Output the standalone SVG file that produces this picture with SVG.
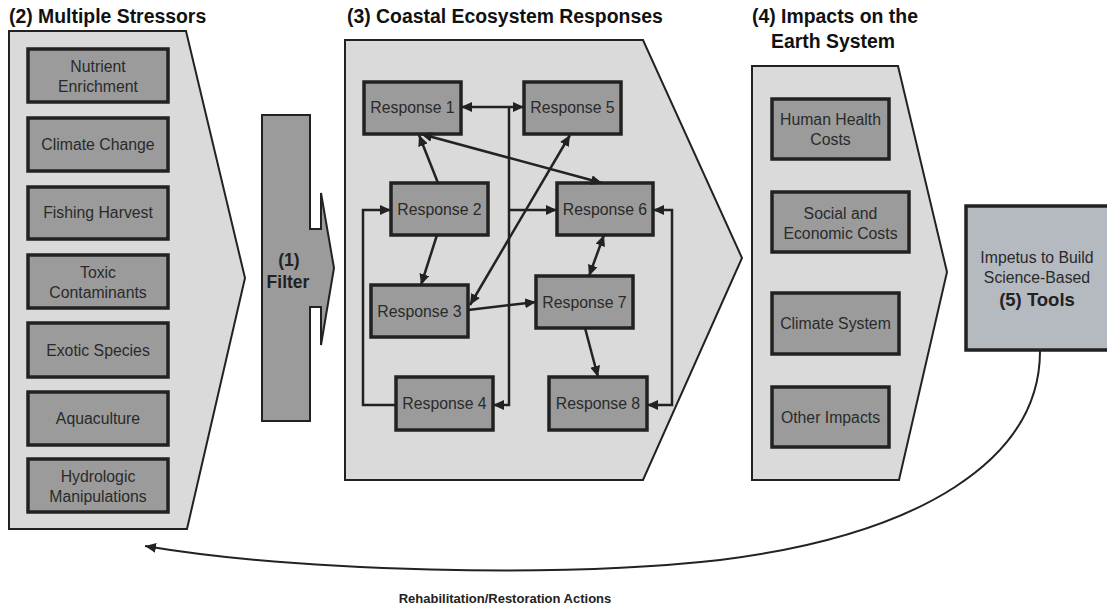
<svg xmlns="http://www.w3.org/2000/svg" width="1107" height="607" viewBox="0 0 1107 607">
<defs>
<style>
.panel{fill:#dadada;stroke:#222;stroke-width:2}
.box{fill:#9b9b9b;stroke:#222;stroke-width:3.5}
.tools{fill:#b5b9c0;stroke:#222;stroke-width:3.5}
.filter{fill:#9b9b9b;stroke:#222;stroke-width:2}
.t{font-family:"Liberation Sans",Arial,sans-serif;font-size:15.8px;fill:#2a2a2a;text-anchor:middle}
.title{font-family:"Liberation Sans",Arial,sans-serif;font-size:19.4px;font-weight:bold;fill:#111}
.b{font-family:"Liberation Sans",Arial,sans-serif;font-weight:bold;fill:#222;text-anchor:middle}
.c{fill:none;stroke:#222;stroke-width:2.5}
.cu{fill:none;stroke:#222;stroke-width:2}
</style>
<marker id="ah" markerUnits="userSpaceOnUse" markerWidth="12" markerHeight="10" refX="11" refY="5" orient="auto-start-reverse">
<path d="M0,0 L11,5 L0,10 z" fill="#222"/>
</marker>
</defs>
<rect width="1107" height="607" fill="#fff"/>

<text class="title" x="9" y="23">(2) Multiple Stressors</text>
<text class="title" x="347" y="23">(3) Coastal Ecosystem Responses</text>
<text class="title" x="752" y="23">(4) Impacts on the</text>
<text class="title" x="771" y="48">Earth System</text>

<g id="stressors">
<polygon class="panel" points="9,31 186,31 245,278 187,529 9,529"/>
<g id="nutrient"><rect class="box" x="28" y="49" width="140" height="53"/><text class="t" x="98" y="72">Nutrient</text><text class="t" x="98" y="92">Enrichment</text></g>
<g id="climate"><rect class="box" x="28" y="118" width="140" height="53"/><text class="t" x="98" y="150">Climate Change</text></g>
<g id="fishing"><rect class="box" x="28" y="187" width="140" height="52"/><text class="t" x="98" y="218">Fishing Harvest</text></g>
<g id="toxic"><rect class="box" x="28" y="255" width="140" height="53"/><text class="t" x="98" y="278">Toxic</text><text class="t" x="98" y="298">Contaminants</text></g>
<g id="exotic"><rect class="box" x="28" y="323" width="140" height="54"/><text class="t" x="98" y="356">Exotic Species</text></g>
<g id="aquaculture"><rect class="box" x="28" y="392" width="140" height="53"/><text class="t" x="98" y="424">Aquaculture</text></g>
<g id="hydrologic"><rect class="box" x="28" y="459" width="140" height="53"/><text class="t" x="98" y="482">Hydrologic</text><text class="t" x="98" y="502">Manipulations</text></g>
</g>

<g id="filter">
<polygon class="filter" points="262,115 310,115 310,229 321,229 321,193 334,268 321,345 321,307 310,307 310,421 262,421"/>
<text class="b" x="289" y="266" font-size="17.5">(1)</text>
<text class="b" x="288" y="288" font-size="17.5">Filter</text>
</g>

<g id="responses">
<polygon class="panel" points="345,40 643,40 742,258 643,480 345,480"/>
<g id="r1"><rect class="box" x="364" y="82" width="97" height="52"/><text class="t" x="412.5" y="113">Response 1</text></g>
<g id="r5"><rect class="box" x="524" y="82" width="97" height="52"/><text class="t" x="572.5" y="113">Response 5</text></g>
<g id="r2"><rect class="box" x="391" y="183" width="97" height="52"/><text class="t" x="439.5" y="215">Response 2</text></g>
<g id="r6"><rect class="box" x="557" y="183" width="96" height="52"/><text class="t" x="605" y="215">Response 6</text></g>
<g id="r3"><rect class="box" x="371" y="285" width="97" height="52"/><text class="t" x="419.5" y="317">Response 3</text></g>
<g id="r7"><rect class="box" x="536" y="276" width="97" height="52"/><text class="t" x="584.5" y="308">Response 7</text></g>
<g id="r4"><rect class="box" x="396" y="377" width="97" height="53"/><text class="t" x="444.5" y="409">Response 4</text></g>
<g id="r8"><rect class="box" x="549" y="377" width="98" height="53"/><text class="t" x="598" y="409">Response 8</text></g>
</g>

<g id="impacts">
<polygon class="panel" points="752,66 898,66 947,272 899,480 752,480"/>
<g id="health"><rect class="box" x="772" y="99" width="117" height="60"/><text class="t" x="830.5" y="125">Human Health</text><text class="t" x="830.5" y="145">Costs</text></g>
<g id="social"><rect class="box" x="772" y="192" width="137" height="60"/><text class="t" x="840.5" y="219">Social and</text><text class="t" x="840.5" y="239">Economic Costs</text></g>
<g id="climsys"><rect class="box" x="772" y="293" width="127" height="61"/><text class="t" x="835.5" y="329">Climate System</text></g>
<g id="other"><rect class="box" x="772" y="387" width="117" height="60"/><text class="t" x="830.5" y="423">Other Impacts</text></g>
</g>

<g id="tools">
<rect class="tools" x="966" y="206" width="150" height="144"/>
<text class="t" x="1037" y="263">Impetus to Build</text>
<text class="t" x="1037" y="283">Science-Based</text>
<text class="b" x="1037" y="306" font-size="18.5">(5) Tools</text>
</g>

<g id="connectors">
<path class="c" d="M461,107 H524" marker-start="url(#ah)" marker-end="url(#ah)"/>
<path class="c" d="M509,107 V405 H493" marker-end="url(#ah)"/>
<path class="c" d="M509,210 H557" marker-end="url(#ah)"/>
<path class="c" d="M438,183 L419,135" marker-end="url(#ah)"/>
<path class="c" d="M421,134 L602,183" marker-start="url(#ah)" marker-end="url(#ah)"/>
<path class="c" d="M470,305 L570,135" marker-start="url(#ah)" marker-end="url(#ah)"/>
<path class="c" d="M437,235 L421,285" marker-end="url(#ah)"/>
<path class="c" d="M468,310 L536,302" marker-end="url(#ah)"/>
<path class="c" d="M604,235 L589,276" marker-start="url(#ah)" marker-end="url(#ah)"/>
<path class="c" d="M585,328 L598,377" marker-end="url(#ah)"/>
<path class="c" d="M396,405 H363 V210 H391" marker-end="url(#ah)"/>
<path class="c" d="M653,210 H672 V405 H647" marker-start="url(#ah)" marker-end="url(#ah)"/>
<path class="cu" d="M1040,351 C1040,460 920,535 720,560 C560,578 300,572 145,546" marker-end="url(#ah)"/>
</g>

<text class="b" x="505" y="603" font-size="13">Rehabilitation/Restoration Actions</text>
</svg>
